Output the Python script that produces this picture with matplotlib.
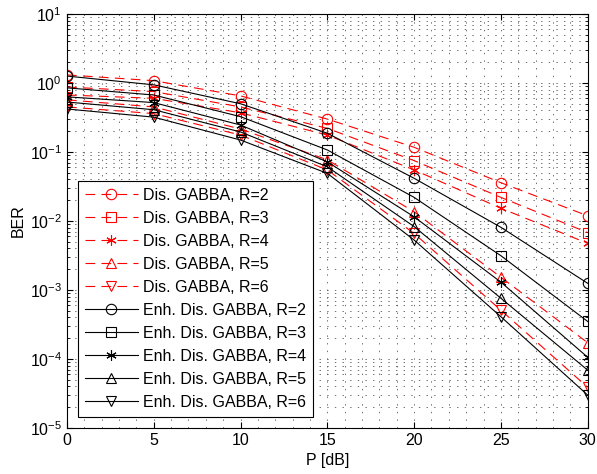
import matplotlib
matplotlib.use('Agg')
import matplotlib.pyplot as plt
from matplotlib.ticker import LogLocator, MultipleLocator, NullFormatter

plt.rcParams['font.family'] = ['Liberation Sans', 'DejaVu Sans']
plt.rcParams['mathtext.default'] = 'regular'
plt.rcParams['lines.scale_dashes'] = False

# P [dB]
p_db = [0, 5, 10, 15, 20, 25, 30]

# BER, Dis. GABBA
dis_r2 = [1.31, 1.08, 0.65, 0.30, 0.117, 0.0359, 0.0119]
dis_r3 = [0.875, 0.75, 0.45, 0.22, 0.075, 0.022, 0.0068]
dis_r4 = [0.67, 0.60, 0.37, 0.176, 0.055, 0.0153, 0.00475]
dis_r5 = [0.57, 0.45, 0.215, 0.077, 0.0136, 0.00153, 0.000172]
dis_r6 = [0.45, 0.36, 0.176, 0.055, 0.0066, 0.00051, 0.0000389]

# BER, Enh. Dis. GABBA
enh_r2 = [1.26, 0.94, 0.50, 0.187, 0.0416, 0.0081, 0.00125]
enh_r3 = [0.85, 0.67, 0.325, 0.107, 0.022, 0.00314, 0.00035]
enh_r4 = [0.63, 0.52, 0.246, 0.072, 0.0115, 0.0013, 0.000106]
enh_r5 = [0.53, 0.41, 0.195, 0.061, 0.0083, 0.00076, 0.000069]
enh_r6 = [0.42, 0.32, 0.149, 0.049, 0.0053, 0.00041, 0.00003]

dis_series = [dis_r2, dis_r3, dis_r4, dis_r5, dis_r6]
enh_series = [enh_r2, enh_r3, enh_r4, enh_r5, enh_r6]
r_values = [2, 3, 4, 5, 6]
markers = ['o', 's', (6, 2, 0), '^', 'v']

fs = 11.5

fig = plt.figure(figsize=(5.97, 4.74), dpi=100)
ax = fig.add_axes([0.1122, 0.097, 0.8722, 0.8735])

for vals, r, m in zip(dis_series, r_values, markers):
    ax.semilogy(p_db, vals, color='r', linestyle=(0, (7, 4.5)), linewidth=0.8,
                marker=m, markersize=7.5, markerfacecolor='none',
                markeredgecolor='r', markeredgewidth=0.8,
                label='Dis. GABBA, R=%d' % r)

for vals, r, m in zip(enh_series, r_values, markers):
    ax.semilogy(p_db, vals, color='k', linestyle='-', linewidth=0.8,
                marker=m, markersize=7.5, markerfacecolor='none',
                markeredgecolor='k', markeredgewidth=0.8,
                label='Enh. Dis. GABBA, R=%d' % r)

ax.set_xlim(0, 30)
ax.set_ylim(1e-5, 1e1)
ax.xaxis.set_major_locator(MultipleLocator(5))
ax.xaxis.set_minor_locator(MultipleLocator(1))
ax.yaxis.set_major_locator(LogLocator(base=10, numticks=10))
ax.yaxis.set_minor_locator(LogLocator(base=10, subs=range(2, 10), numticks=20))
ax.yaxis.set_minor_formatter(NullFormatter())

ax.grid(True, which='both', color='0.35', linestyle=(0, (1, 4.5)), linewidth=0.6)

ax.tick_params(which='both', direction='in', top=True, right=True, labelsize=fs)
ax.tick_params(which='major', length=4)
ax.tick_params(axis='y', which='minor', length=2)
ax.tick_params(axis='x', which='minor', length=0)
for s in ax.spines.values():
    s.set_linewidth(0.8)

ax.set_xlabel('P [dB]', fontsize=fs, labelpad=4)
ax.set_ylabel('BER', fontsize=fs, labelpad=3)

leg = ax.legend(loc='lower left', bbox_to_anchor=(0.021, 0.027), borderaxespad=0,
                fontsize=fs, handlelength=3.3, handletextpad=0.3,
                labelspacing=0.5, borderpad=0.45, fancybox=False,
                framealpha=1, edgecolor='k')
leg.get_frame().set_linewidth(0.8)

fig.savefig('out.png', dpi=100)
